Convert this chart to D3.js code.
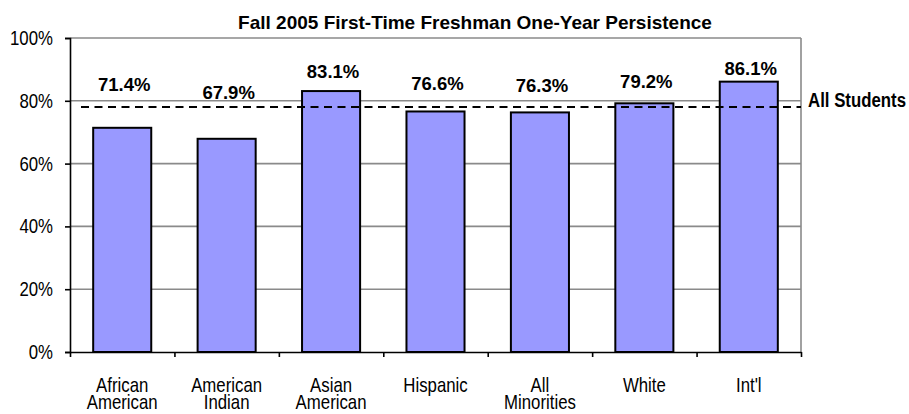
<!DOCTYPE html>
<html>
<head>
<meta charset="utf-8">
<script src="https://cdn.jsdelivr.net/npm/d3@7"></script>
<style>
  html, body { margin: 0; padding: 0; background: #ffffff; }
  svg { display: block; }
</style>
</head>
<body>
<svg id="chart" width="909" height="414"></svg>
<script>
// ---- data ----
const categories = [
  ["African", "American"],
  ["American", "Indian"],
  ["Asian", "American"],
  ["Hispanic"],
  ["All", "Minorities"],
  ["White"],
  ["Int'l"]
];
const persistence = [0.714, 0.679, 0.831, 0.766, 0.763, 0.792, 0.861];
const valueLabels = ["71.4%", "67.9%", "83.1%", "76.6%", "76.3%", "79.2%", "86.1%"];
// level (in value units) at which each data label sits, as placed in the original
const labelAnchor = [0.830, 0.807, 0.874, 0.834, 0.829, 0.842, 0.882];
const allStudents = 0.780;
const allStudentsLabel = "All Students";
const yTicks = [0, 0.2, 0.4, 0.6, 0.8, 1.0];
const title = "Fall 2005 First-Time Freshman One-Year Persistence";

(function () {
// ---- layout ----
const svg = d3.select("#chart");
const mLeft = 70, mRight = 801, mTop = 38, mBottom = 352;
const font = "'Liberation Sans', Arial, sans-serif";
const squeeze = 0.82;   // horizontal condensing to mimic the narrow face

svg.append("rect").attr("width", 909).attr("height", 414).attr("fill", "#fff");

const y = d3.scaleLinear().domain([0, 1]).range([mBottom, mTop]);
const x = d3.scaleBand().domain(d3.range(categories.length)).range([mLeft, mRight])
  .paddingInner(0.444).paddingOuter(0.222);
const xEdge = d3.scaleLinear().domain([0, categories.length]).range([mLeft, mRight]);

function narrowText(parent, px, py, anchor, size, weight) {
  return parent.append("g")
    .attr("transform", `translate(${px},${py}) scale(${squeeze},1)`)
    .append("text")
    .attr("text-anchor", anchor)
    .attr("font-family", font).attr("font-size", size).attr("font-weight", weight)
    .attr("fill", "#000");
}

// gridlines
svg.append("g").selectAll("line").data(yTicks.filter(d => d > 0)).join("line")
  .attr("x1", mLeft).attr("x2", mRight)
  .attr("y1", d => y(d)).attr("y2", d => y(d))
  .attr("stroke", "#8a8a8a").attr("stroke-width", 1.6);
// right border of plot area
svg.append("line").attr("x1", mRight).attr("x2", mRight).attr("y1", y(1)).attr("y2", y(0))
  .attr("stroke", "#8a8a8a").attr("stroke-width", 1.6);

// bars
svg.append("g").selectAll("rect").data(persistence).join("rect")
  .attr("x", (d, i) => x(i))
  .attr("width", x.bandwidth())
  .attr("y", d => y(d))
  .attr("height", d => y(0) - y(d))
  .attr("fill", "#9999ff")
  .attr("stroke", "#000")
  .attr("stroke-width", 2);

// All students dashed line
svg.append("line")
  .attr("x1", mLeft + 11).attr("x2", mRight)
  .attr("y1", y(allStudents)).attr("y2", y(allStudents))
  .attr("stroke", "#000").attr("stroke-width", 2)
  .attr("stroke-dasharray", "8,5.5");
narrowText(svg, mRight + 7, y(allStudents), "start", 20.5, "bold").text(allStudentsLabel);

// y axis
const yAxis = svg.append("g").attr("transform", `translate(${mLeft},0)`)
  .call(d3.axisLeft(y).tickValues(yTicks).tickFormat(d3.format(".0%")).tickSize(5).tickPadding(12));
yAxis.select(".domain").attr("stroke", "#000").attr("stroke-width", 1.6);
yAxis.selectAll(".tick line").attr("stroke", "#000").attr("stroke-width", 1.6);
yAxis.selectAll(".tick text")
  .attr("font-family", font).attr("font-size", 20.5).attr("fill", "#000")
  .attr("x", -17 / squeeze)
  .attr("transform", `scale(${squeeze},1)`);

// x axis (ticks at category boundaries)
const xAxis = svg.append("g").attr("transform", `translate(0,${mBottom})`)
  .call(d3.axisBottom(xEdge).tickValues(d3.range(categories.length + 1)).tickFormat("").tickSize(5).tickSizeOuter(0));
xAxis.select(".domain").attr("stroke", "#000").attr("stroke-width", 1.6);
xAxis.selectAll(".tick line").attr("stroke", "#000").attr("stroke-width", 1.6);

// category labels
const catG = svg.append("g");
categories.forEach((lines, i) => {
  const cx = x(i) + x.bandwidth() / 2;
  const t = narrowText(catG, cx, 392, "middle", 20.5, "normal");
  lines.forEach((ln, j) => {
    t.append("tspan").attr("x", 0).attr("dy", j === 0 ? 0 : 17).text(ln);
  });
});

// value labels
svg.append("g").selectAll("text").data(valueLabels).join("text")
  .attr("x", (d, i) => x(i) + x.bandwidth() / 2 + 2)
  .attr("y", (d, i) => y(labelAnchor[i]))
  .attr("text-anchor", "middle")
  .attr("font-family", font).attr("font-weight", "bold").attr("font-size", 18.5)
  .attr("fill", "#000").text(d => d);

// title
svg.append("text")
  .attr("x", 475).attr("y", 29)
  .attr("text-anchor", "middle")
  .attr("font-family", font).attr("font-weight", "bold").attr("font-size", 19)
  .attr("fill", "#000").text(title);
})();
</script>
</body>
</html>
